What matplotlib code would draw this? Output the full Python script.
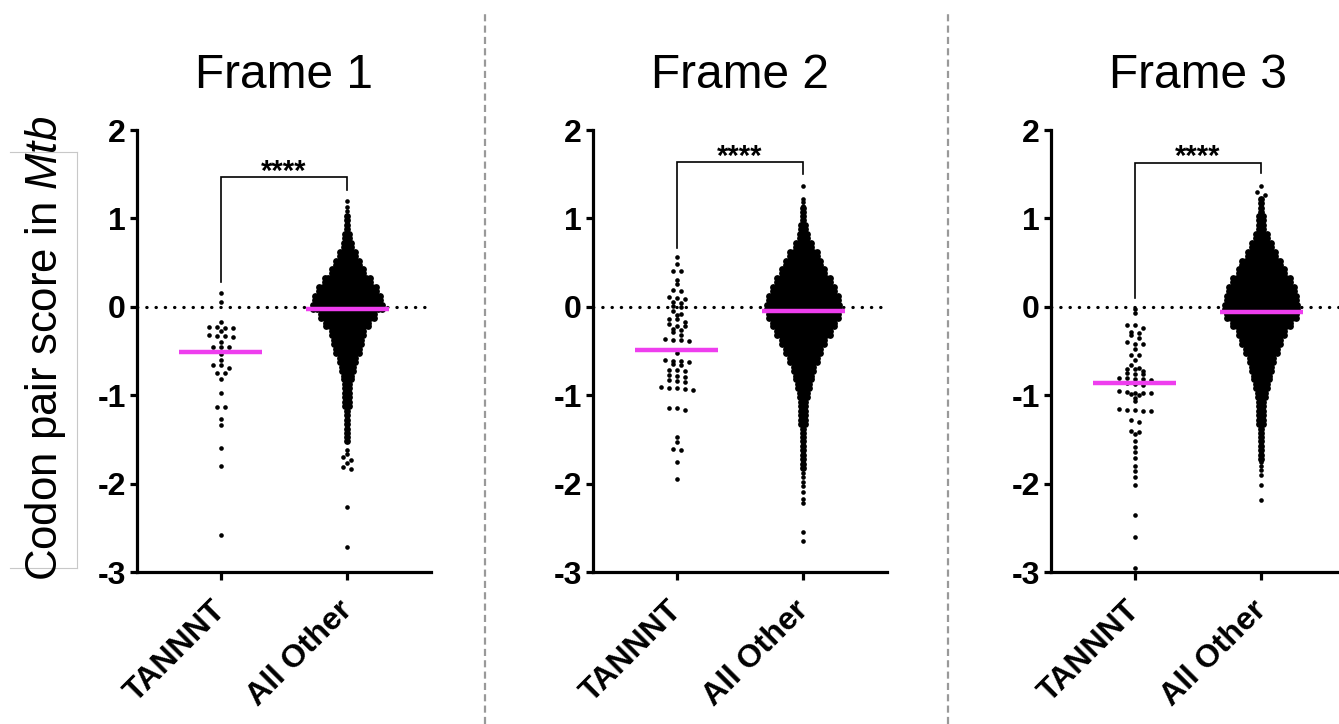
import numpy as np
import matplotlib
matplotlib.use("Agg")
import matplotlib.pyplot as plt
from matplotlib import font_manager
from matplotlib.lines import Line2D
from matplotlib.transforms import ScaledTranslation

# ---------------------------------------------------------------
# data
# ---------------------------------------------------------------
frames = ["Frame 1", "Frame 2", "Frame 3"]
categories = ["TANNNT", "All Other"]
y_ticks = [-3, -2, -1, 0, 1, 2]
y_tick_labels = ["-3", "-2", "-1", "0", "1", "2"]

# TANNNT individual scores
tannnt_f1 = [0.16, 0.05, -0.17, -0.23, -0.23, -0.24, -0.24, -0.27, -0.32, -0.33,
             -0.33, -0.34, -0.40, -0.46, -0.46, -0.46, -0.53, -0.60, -0.66, -0.66,
             -0.69, -0.75, -0.75, -0.82, -0.97, -1.13, -1.13, -1.27, -1.34, -1.60,
             -1.80, -2.58]
tannnt_f2 = [0.56, 0.48, 0.40, 0.40, 0.30, 0.26, 0.19, 0.18, 0.11, 0.10, 0.09,
             0.05, 0.04, 0.01, 0.00, -0.05, -0.08, -0.09, -0.14, -0.14, -0.17,
             -0.20, -0.22, -0.22, -0.25, -0.26, -0.29, -0.32, -0.36, -0.37, -0.38,
             -0.39, -0.52, -0.60, -0.61, -0.61, -0.62, -0.65, -0.66, -0.71, -0.72,
             -0.73, -0.77, -0.78, -0.79, -0.83, -0.84, -0.85, -0.91, -0.92, -0.92,
             -0.93, -0.94, -1.14, -1.14, -1.17, -1.47, -1.53, -1.61, -1.62, -1.75,
             -1.95]
tannnt_f3 = [-0.02, -0.07, -0.21, -0.21, -0.24, -0.28, -0.30, -0.32, -0.35, -0.40,
             -0.42, -0.42, -0.48, -0.54, -0.54, -0.60, -0.66, -0.69, -0.70, -0.70,
             -0.73, -0.75, -0.76, -0.76, -0.80, -0.81, -0.82, -0.82, -0.83, -0.86,
             -0.87, -0.88, -0.95, -0.96, -0.97, -0.98, -0.98, -0.99, -1.00, -1.03,
             -1.07, -1.16, -1.17, -1.17, -1.18, -1.18, -1.28, -1.30, -1.40, -1.42,
             -1.44, -1.52, -1.59, -1.64, -1.71, -1.80, -1.86, -1.92, -2.02, -2.35,
             -2.60, -2.96]

# All Other: dense body as dots per row in 0.1-wide bins, plus sparse tails
other_levels_f1 = [1.0, 0.9, 0.8, 0.7, 0.6, 0.5, 0.4, 0.3, 0.2, 0.1, 0.0, -0.1, -0.2,
                   -0.3, -0.4, -0.5, -0.6, -0.7, -0.8, -0.9, -1.0, -1.1, -1.2, -1.3,
                   -1.4, -1.5]
other_counts_f1 = [1, 1, 2, 3, 5, 7, 9, 13, 16, 18, 19, 15, 12,
                   9, 8, 7, 5, 4, 3, 2, 2, 2, 1, 1,
                   1, 1]
other_tail_f1 = [1.20, 1.13, 1.08, -1.62, -1.66, -1.70, -1.73, -1.77, -1.81, -1.84,
                 -2.26, -2.72]

other_levels_f2 = [1.1, 1.0, 0.9, 0.8, 0.7, 0.6, 0.5, 0.4, 0.3, 0.2, 0.1, 0.0, -0.1,
                   -0.2, -0.3, -0.4, -0.5, -0.6, -0.7, -0.8, -0.9, -1.0, -1.1, -1.2,
                   -1.3, -1.4, -1.5, -1.6, -1.7, -1.8]
other_counts_f2 = [1, 1, 2, 3, 5, 8, 10, 12, 15, 17, 19, 20, 19,
                   17, 15, 12, 10, 8, 6, 5, 4, 3, 2, 2,
                   2, 1, 1, 1, 1, 1]
other_tail_f2 = [1.37, 1.22, 1.18, 1.14, -1.88, -1.93, -1.98, -2.03, -2.10, -2.17,
                 -2.22, -2.55, -2.65]

other_levels_f3 = [1.2, 1.1, 1.0, 0.9, 0.8, 0.7, 0.6, 0.5, 0.4, 0.3, 0.2, 0.1, 0.0,
                   -0.1, -0.2, -0.3, -0.4, -0.5, -0.6, -0.7, -0.8, -0.9, -1.0, -1.1,
                   -1.2, -1.3, -1.4, -1.5, -1.6, -1.7]
other_counts_f3 = [1, 1, 2, 2, 4, 6, 8, 11, 13, 16, 18, 19, 20,
                   19, 16, 13, 11, 9, 7, 6, 5, 4, 3, 2,
                   2, 2, 1, 1, 1, 1]
other_tail_f3 = [1.37, 1.30, 1.27, -1.76, -1.80, -1.85, -1.90, -2.02, -2.18]

median_tannnt = [-0.51, -0.49, -0.86]
median_other = [-0.02, -0.05, -0.06]

# significance brackets: bar height, left leg end, right leg end
bracket_top = [1.47, 1.64, 1.63]
bracket_left = [0.28, 0.67, 0.10]
bracket_right = [1.32, 1.50, 1.51]
sig_label = "****"

tannnt_all = [tannnt_f1, tannnt_f2, tannnt_f3]
levels_all = [other_levels_f1, other_levels_f2, other_levels_f3]
counts_all = [other_counts_f1, other_counts_f2, other_counts_f3]
tails_all = [other_tail_f1, other_tail_f2, other_tail_f3]

# ---------------------------------------------------------------
# fonts
# ---------------------------------------------------------------
names = {f.name for f in font_manager.fontManager.ttflist}
label_font = "Liberation Sans Narrow" if "Liberation Sans Narrow" in names else "Liberation Sans"
label_size = 38 if label_font.endswith("Narrow") else 31.5
plt.rcParams["font.family"] = ["Liberation Sans", "DejaVu Sans"]
plt.rcParams["mathtext.fontset"] = "custom"
plt.rcParams["mathtext.rm"] = label_font
plt.rcParams["mathtext.it"] = label_font + ":italic"

MAGENTA = "#EE3EEE"
W, H = 1339, 724


def swarm(vals, tol=0.035, step=0.063):
    # group near-equal values into rows, centre each row
    v = sorted(vals, reverse=True)
    xs, ys = [], []
    i = 0
    while i < len(v):
        j = i
        while j + 1 < len(v) and v[i] - v[j + 1] <= tol:
            j += 1
        m = j - i + 1
        for k in range(m):
            xs.append((k - (m - 1) / 2) * step)
            ys.append(v[i + k])
        i = j + 1
    return np.array(xs), np.array(ys)


def dense_rows(levels, counts, step=0.03, dy=0.022):
    xs, ys = [], []
    for c, n in zip(levels, counts):
        for off in [dy, -dy]:
            for k in range(n):
                xs.append((k - (n - 1) / 2) * step)
                ys.append(c + off)
    return np.array(xs), np.array(ys)


fig = plt.figure(figsize=(W / 100, H / 100), dpi=100)

ax_left_px = [137, 593, 1051]
ax_w_px = 294
ax_top_px, ax_bot_px = 130, 572

for p in range(3):
    ax = fig.add_axes([ax_left_px[p] / W, 1 - ax_bot_px / H,
                       ax_w_px / W, (ax_bot_px - ax_top_px) / H])
    ax.set_xlim(-0.66, 1.66)
    ax.set_ylim(-3, 2)
    ax.patch.set_alpha(0)

    # zero reference line
    ax.axhline(0, color="black", lw=2.3, linestyle=(0, (0.1, 2.8)),
               dash_capstyle="round", zorder=1)

    # TANNNT dots
    sx, sy = swarm(tannnt_all[p])
    ax.scatter(0 + sx, sy, s=11, color="black", linewidths=0, zorder=3, clip_on=False)

    # All Other dots
    dx, dyv = dense_rows(levels_all[p], counts_all[p])
    ax.scatter(1 + dx, dyv, s=24, color="black", linewidths=0, zorder=3)
    tx, ty = swarm(tails_all[p])
    ax.scatter(1 + tx, ty, s=11, color="black", linewidths=0, zorder=3)

    # medians
    ax.plot([-0.33, 0.33], [median_tannnt[p]] * 2, color=MAGENTA, lw=3.2,
            solid_capstyle="butt", zorder=4)
    ax.plot([1 - 0.33, 1 + 0.33], [median_other[p]] * 2, color=MAGENTA, lw=3.2,
            solid_capstyle="butt", zorder=4)

    # significance bracket
    ax.plot([0, 0, 1, 1],
            [bracket_left[p], bracket_top[p], bracket_top[p], bracket_right[p]],
            color="black", lw=1.2, zorder=2, solid_joinstyle="miter")
    ax.text(0.5, bracket_top[p] - 0.03, sig_label, ha="center", va="baseline",
            fontsize=21, fontweight="bold")

    # axes styling
    for side in ["top", "right"]:
        ax.spines[side].set_visible(False)
    for side in ["left", "bottom"]:
        ax.spines[side].set_linewidth(2.3)
    ax.set_yticks(y_ticks)
    ax.set_yticklabels(y_tick_labels, fontsize=23, fontweight="bold")
    ax.set_xticks([0, 1])
    ax.set_xticklabels(categories, fontsize=23, fontweight="bold", rotation=45,
                       ha="right", va="top", rotation_mode="anchor")
    ax.tick_params(axis="y", length=5, width=2.3, pad=3)
    ax.tick_params(axis="x", length=6, width=2.3, pad=11)
    shift = ScaledTranslation(-10 / 100, 0, fig.dpi_scale_trans)
    for lab in ax.get_xticklabels():
        lab.set_transform(lab.get_transform() + shift)

    # panel title
    cx = (ax_left_px[p] + ax_w_px / 2) / W
    fig.text(cx, 1 - 88 / H, frames[p], ha="center", va="baseline", fontsize=34.5)

# y label with the thin box around it
fig.text(46 / W, 1 - 348 / H, r"Codon pair score in $\mathit{Mtb}$", rotation=90,
         ha="center", va="center", fontsize=label_size, family=label_font)
box_col = "#c8c8c8"
for xs_, ys_ in [([10, 77], [152, 152]), ([77, 77], [152, 568]), ([10, 77], [568, 568])]:
    fig.add_artist(Line2D([x / W for x in xs_], [1 - y / H for y in ys_],
                          transform=fig.transFigure, color=box_col, lw=0.8))

# dashed panel separators
for sx_ in [485, 948]:
    fig.add_artist(Line2D([sx_ / W, sx_ / W], [0, 1 - 12 / H], transform=fig.transFigure,
                          color="#999999", lw=1.6, linestyle=(0, (3.2, 1.9))))

fig.savefig("out.png", dpi=100)
